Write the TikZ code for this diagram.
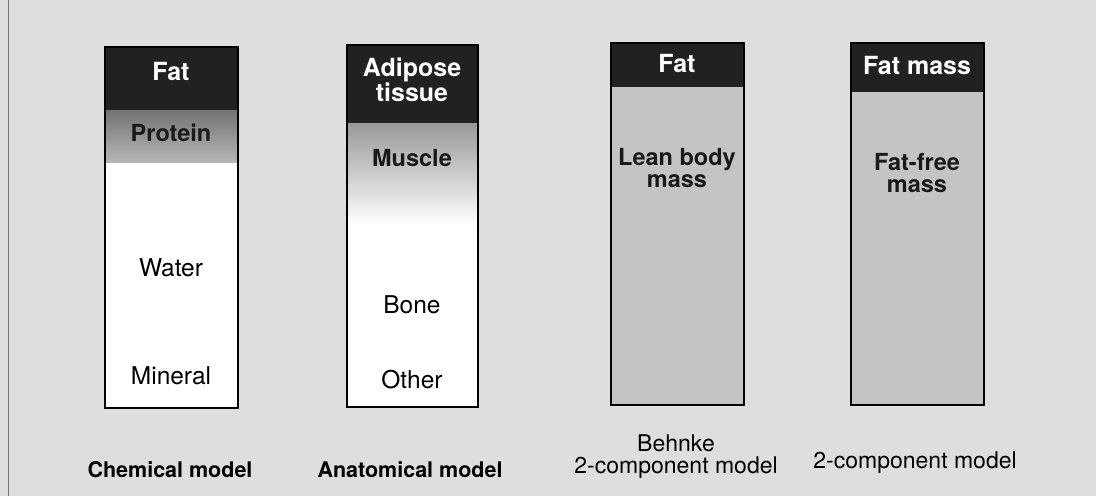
\documentclass[tikz,border=0pt]{standalone}
\usepackage{fontspec}
\setmainfont{TeX Gyre Heros}
\usetikzlibrary{positioning}

\definecolor{paper}{gray}{0.87}
\definecolor{fatcol}{gray}{0.13}
\definecolor{leancol}{gray}{0.77}

\tikzset{
  fatlabel/.style={text=white, font=\fontsize{25}{23}\selectfont\bfseries, align=center},
  partlabel/.style={text=black!90, font=\fontsize{23.5}{22}\selectfont\bfseries, align=center},
  thinlabel/.style={font=\fontsize{24.5}{24}\selectfont},
  boldcaption/.style={font=\fontsize{21.5}{24}\selectfont\bfseries, align=center},
  thincaption/.style={font=\fontsize{23}{22}\selectfont, align=center},
  column/.style={draw=black, line width=1.5pt},
}

\begin{document}
\begin{tikzpicture}[x=1pt, y=-1pt]
\useasboundingbox (0,0) rectangle (1096,496);
% Background
\fill[paper] (0,0) rectangle (1096,496);
\draw[black!55, line width=1pt] (8,0) -- (8,496);

% Chemical model
\fill[fatcol] (105,47) rectangle (238,110);
\shade[top color=black!55, bottom color=black!28] (105,110) rectangle (238,163);
\fill[white] (105,163) rectangle (238,408);
\draw[column] (105,47) rectangle (238,408);
\node[fatlabel] (chemfat) at (171,71) {Fat};
\node[partlabel] (protein) at (171,133) {Protein};
\node[thinlabel] (water) at (171,268) {Water};
\node[thinlabel] (mineral) at (171,376) {Mineral};
\node[boldcaption] (chemcap) at (170,470) {Chemical model};

% Anatomical model
\fill[fatcol] (347,45) rectangle (478,123);
\shade[top color=black!40, bottom color=white] (347,123) rectangle (478,225);
\fill[white] (347,225) rectangle (478,407);
\draw[column] (347,45) rectangle (478,407);
\node[fatlabel] (adipose) at (412,80) {Adipose\\tissue};
\node[partlabel] (muscle) at (412,158) {Muscle};
\node[thinlabel] (bone) at (412,305) {Bone};
\node[thinlabel] (other) at (412,380) {Other};
\node[boldcaption] (anatcap) at (410,470) {Anatomical model};

% Behnke model
\fill[fatcol] (611,43) rectangle (744,87);
\fill[leancol] (611,87) rectangle (744,405);
\draw[column] (611,43) rectangle (744,405);
\node[fatlabel] (behnkefat) at (677,63) {Fat};
\node[partlabel] (lean) at (677,168) {Lean body\\mass};
\node[thincaption] (behnkecap) at (676,457) {Behnke\\2-component model};

% 2-component model
\fill[fatcol] (851,43) rectangle (984,92);
\fill[leancol] (851,92) rectangle (984,405);
\draw[column] (851,43) rectangle (984,405);
\node[fatlabel] (fatmass) at (917,65) {Fat mass};
\node[partlabel] (fatfree) at (917,173) {Fat-free\\mass};
\node[thincaption] (twocap) at (915,463) {2-component model};
\end{tikzpicture}
\end{document}
